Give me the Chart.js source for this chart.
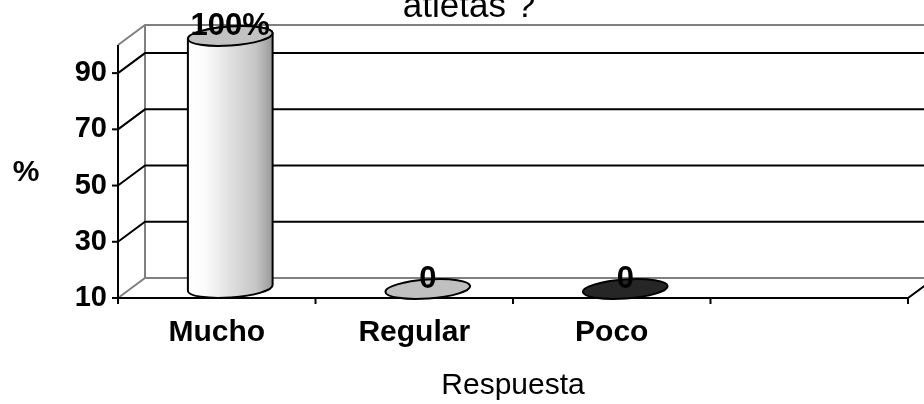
<!DOCTYPE html>
<html>
<head>
<meta charset="utf-8">
<script src="https://cdn.jsdelivr.net/npm/chart.js@4.4.0/dist/chart.umd.min.js"></script>
<style>
  html, body { margin: 0; padding: 0; background: #ffffff; }
  #wrap { width: 924px; height: 404px; }
</style>
</head>
<body>
<div id="wrap"><canvas id="chart" width="924" height="404"></canvas></div>
<script>
// Survey answers (percent of respondents)
const categories = ['Mucho', 'Regular', 'Poco', ''];
const percentages = [100, 0, 0];
const valueLabels = ['100%', '0', '0'];
const yTickValues = [10, 30, 50, 70, 90];
const titleText = 'atletas ?';
const xTitleText = 'Respuesta';
const yTitleText = '%';

// Per-column colours: cap fill and body gradient stops
const capColors = ['#c2c2c2', '#c0c0c0', '#262626'];
const bodyStops = [
  [[0, '#ffffff'], [0.2, '#fbfbfb'], [0.5, '#e0e0e0'], [0.8, '#c6c6c6'], [1, '#999999']],
  [[0, '#d8d8d8'], [1, '#9a9a9a']],
  [[0, '#444444'], [1, '#1a1a1a']]
];

const FONT = '"Liberation Sans", Arial, sans-serif';
Chart.defaults.font.family = FONT;
Chart.defaults.color = '#000000';

// Depth of the pseudo-3D box (back wall offset)
const DX = 27, DY = -20;
const GRAY = '#808080';

function line(ctx, pts, color, width) {
  ctx.beginPath();
  ctx.moveTo(pts[0][0], pts[0][1]);
  for (let i = 1; i < pts.length; i++) ctx.lineTo(pts[i][0], pts[i][1]);
  ctx.strokeStyle = color;
  ctx.lineWidth = width;
  ctx.stroke();
}

const box3d = {
  id: 'box3d',
  beforeDatasetsDraw(chart) {
    const { ctx, chartArea: a, scales: { x, y } } = chart;
    ctx.save();
    ctx.lineCap = 'butt';
    const farRight = a.right + DX;
    const yTop = y.getPixelForValue(y.max);
    const yBot = y.getPixelForValue(y.min);

    // back wall outline and floor edge
    line(ctx, [[a.left, yTop], [a.left + DX, yTop + DY], [farRight, yTop + DY]], GRAY, 2);
    line(ctx, [[a.left + DX, yTop + DY], [a.left + DX, yBot + DY]], GRAY, 2);
    line(ctx, [[a.left, yBot], [a.left + DX, yBot + DY], [farRight, yBot + DY]], GRAY, 2);

    // gridlines on side and back walls
    yTickValues.forEach(v => {
      if (v === y.min) return;
      const py = y.getPixelForValue(v);
      line(ctx, [[a.left, py], [a.left + DX, py + DY], [farRight, py + DY]], '#000000', 2);
    });

    // front value axis with tick marks
    line(ctx, [[a.left, yTop], [a.left, yBot]], '#000000', 2);
    yTickValues.forEach(v => {
      const py = y.getPixelForValue(v);
      line(ctx, [[a.left - 6, py], [a.left, py]], '#000000', 2);
    });

    // front category axis with tick marks between categories
    line(ctx, [[a.left, yBot], [a.right, yBot], [a.right + DX, yBot + DY]], '#000000', 2);
    for (let i = 0; i <= categories.length; i++) {
      const px = x.getPixelForValue(i - 0.5);
      line(ctx, [[px, yBot], [px, yBot + 6]], '#000000', 2);
    }
    ctx.restore();
  },
  afterDatasetsDraw(chart) {
    const { ctx, scales: { y } } = chart;
    const meta = chart.getDatasetMeta(0);
    const floor = y.getPixelForValue(y.min);
    ctx.save();
    const rot = -0.07;
    meta.data.forEach((bar, i) => {
      const rx = bar.width / 2;
      const ry = 9.5;
      const cx = bar.x + DX / 2;
      // columns stand on the floor of the box (lowest visible value)
      const basePx = Math.min(bar.base, floor);
      const topPx = Math.min(bar.y, basePx);
      const topCy = topPx + DY / 2 + 1;
      const botCy = basePx + DY / 2;

      if (botCy - topCy > 0.5) {
        const g = ctx.createLinearGradient(cx - rx, 0, cx + rx, 0);
        bodyStops[i].forEach(s => g.addColorStop(s[0], s[1]));
        ctx.beginPath();
        ctx.ellipse(cx, botCy, rx, ry, rot, 0, Math.PI, false);
        ctx.ellipse(cx, topCy, rx, ry, rot, Math.PI, 2 * Math.PI, false);
        ctx.closePath();
        ctx.fillStyle = g;
        ctx.fill();
        ctx.strokeStyle = '#000000';
        ctx.lineWidth = 2;
        ctx.stroke();
      }
      ctx.beginPath();
      ctx.ellipse(cx, topCy, rx, ry, rot, 0, 2 * Math.PI);
      ctx.fillStyle = capColors[i];
      ctx.fill();
      ctx.strokeStyle = '#000000';
      ctx.lineWidth = 2;
      ctx.stroke();

      // value label above the cap
      ctx.font = 'bold 31px ' + FONT;
      ctx.fillStyle = '#000000';
      ctx.textAlign = 'center';
      ctx.textBaseline = 'middle';
      ctx.fillText(valueLabels[i], cx, topCy - 10);
    });
    ctx.restore();
  },
  afterDraw(chart) {
    const { ctx } = chart;
    ctx.save();
    ctx.fillStyle = '#000000';
    ctx.textAlign = 'center';
    // title (last line visible at the top edge)
    ctx.font = '35px ' + FONT;
    ctx.textBaseline = 'alphabetic';
    ctx.fillText(titleText, 469, 17);
    // value-axis title
    ctx.font = 'bold 30px ' + FONT;
    ctx.textBaseline = 'middle';
    ctx.fillText(yTitleText, 26, 173);
    ctx.restore();
  }
};

new Chart(document.getElementById('chart'), {
  type: 'bar',
  data: {
    labels: categories,
    datasets: [{
      data: percentages,
      backgroundColor: 'rgba(0,0,0,0)',
      borderWidth: 0,
      barPercentage: 0.43,
      categoryPercentage: 1
    }]
  },
  options: {
    responsive: false,
    animation: false,
    layout: { padding: { top: 45, right: 16, left: 0, bottom: 0 } },
    plugins: {
      legend: { display: false },
      tooltip: { enabled: false },
      title: { display: false }
    },
    scales: {
      x: {
        grid: { display: false, drawTicks: false },
        border: { display: false },
        ticks: {
          font: { size: 30, weight: 'bold' },
          color: '#000000',
          padding: 17,
          maxRotation: 0,
          autoSkip: false
        },
        title: {
          display: true,
          text: xTitleText,
          font: { size: 30, weight: 'normal' },
          color: '#000000',
          padding: { top: 0, bottom: 0 }
        },
        afterFit: s => { s.height = 106; }
      },
      y: {
        min: 10,
        max: 100,
        afterBuildTicks: s => { s.ticks = yTickValues.map(v => ({ value: v })); },
        grid: { display: false, drawTicks: false },
        border: { display: false },
        ticks: {
          font: { size: 29, weight: 'bold' },
          color: '#000000',
          padding: 11
        },
        afterFit: s => { s.width = 118; }
      }
    }
  },
  plugins: [box3d]
});
</script>
</body>
</html>
